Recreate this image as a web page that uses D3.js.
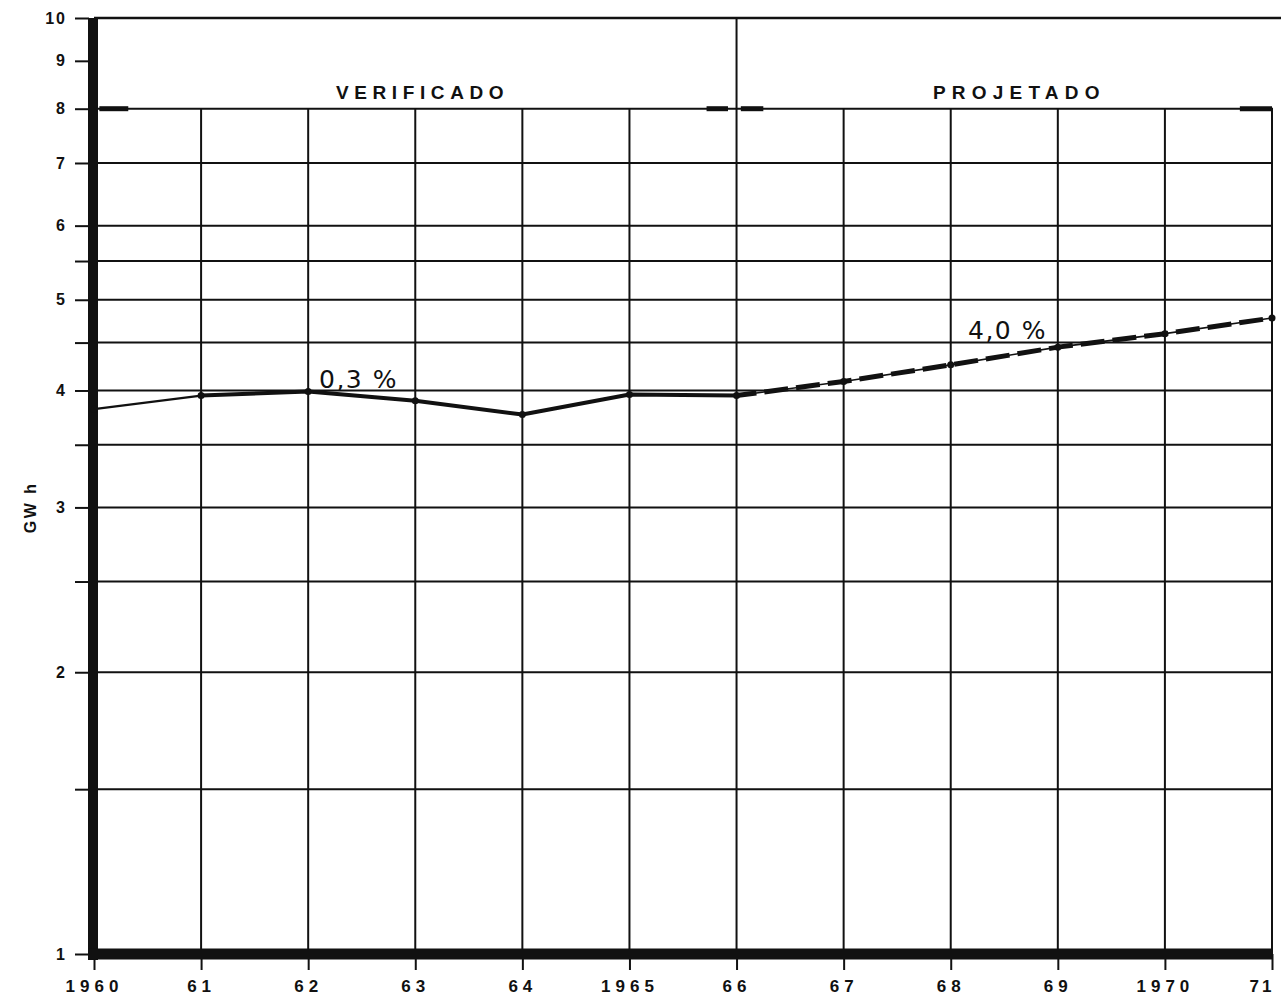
<!DOCTYPE html>
<html>
<head>
<meta charset="utf-8">
<script src="https://cdn.jsdelivr.net/npm/d3@7"></script>
<style>
  html, body { margin: 0; padding: 0; background: #fff; }
  svg { display: block; }
  .lbl { font-family: "Liberation Sans", "DejaVu Sans", sans-serif; font-weight: bold; fill: #111; }
  .rate { font-family: "DejaVu Sans", "Liberation Sans", sans-serif; fill: #111; }
</style>
</head>
<body>
<script>
// Energy consumption (GWh), observed 1960–1966 and projected 1966–1971
const years = [1960, 1961, 1962, 1963, 1964, 1965, 1966, 1967, 1968, 1969, 1970, 1971];
const xTickLabels = ["1960", "61", "62", "63", "64", "1965", "66", "67", "68", "69", "1970", "71"];

const verifiedYears = [1960, 1961, 1962, 1963, 1964, 1965, 1966];
const verifiedValues = [3.82, 3.95, 3.99, 3.90, 3.77, 3.96, 3.95];

const projectedYears = [1966, 1967, 1968, 1969, 1970, 1971];
const projectedValues = [3.95, 4.09, 4.26, 4.45, 4.60, 4.78];

const yTickValues = [1, 1.5, 2, 2.5, 3, 3.5, 4, 4.5, 5, 5.5, 6, 7, 8, 9, 10];
const yTickLabels = ["1", "", "2", "", "3", "", "4", "", "5", "", "6", "7", "8", "9", "10"];
const yGridValues = [1.5, 2, 2.5, 3, 3.5, 4, 4.5, 5, 5.5, 6, 7, 8];

const periodLabels = ["VERIFICADO", "PROJETADO"];
const rateLabels = ["0,3 %", "4,0 %"];
const yAxisTitle = "GW h";

const W = 1281, H = 1001;
const svg = d3.select("body").append("svg").attr("width", W).attr("height", H);

const x = d3.scaleLinear().domain([1960, 1971]).range([94, 1272]);
const y = d3.scaleLog().domain([1, 10]).range([954, 18]);
const ink = "#111";
const rightEdge = 1281;

// horizontal grid, closed on the right by the 1971 line
svg.append("g").selectAll("line").data(yGridValues).join("line")
  .attr("x1", x(1960)).attr("x2", x(1971) + 1)
  .attr("y1", d => y(d)).attr("y2", d => y(d))
  .attr("stroke", ink).attr("stroke-width", 2);

// vertical grid: below the header band, except the period divider which runs to the top
svg.append("g").selectAll("line").data(years.slice(1)).join("line")
  .attr("x1", d => x(d)).attr("x2", d => x(d))
  .attr("y1", d => d === 1966 ? y(10) : y(8)).attr("y2", y(1))
  .attr("stroke", ink).attr("stroke-width", 2);

// period span markers on the header line
const spans = [[1960.05, 1960.32], [1965.72, 1965.92], [1966.04, 1966.25], [1970.7, 1971]];
svg.append("g").selectAll("line").data(spans).join("line")
  .attr("x1", d => x(d[0])).attr("x2", d => x(d[1]))
  .attr("y1", y(8)).attr("y2", y(8))
  .attr("stroke", ink).attr("stroke-width", 5);

// left axis
const yAxis = d3.axisLeft(y).tickValues(yTickValues).tickSize(14).tickPadding(8)
  .tickFormat((d, i) => yTickLabels[i]);
const gy = svg.append("g").attr("transform", `translate(${x(1960) - 5},0)`).call(yAxis);
gy.select(".domain").remove();
gy.selectAll(".tick line").attr("stroke", ink).attr("stroke-width", 2);
gy.selectAll(".tick text").attr("class", "lbl")
  .style("font-size", "16px").style("letter-spacing", "2px");

// bottom axis
const xAxis = d3.axisBottom(x).tickValues(years).tickSize(16).tickPadding(10)
  .tickFormat((d, i) => xTickLabels[i]);
const gx = svg.append("g").attr("transform", `translate(0,${y(1)})`).call(xAxis);
gx.select(".domain").remove();
gx.selectAll(".tick line").attr("stroke", ink).attr("stroke-width", 2);
gx.selectAll(".tick text").attr("class", "lbl")
  .style("font-size", "17px").style("letter-spacing", "5px");
// last label sits just inside the right edge
gx.selectAll(".tick").filter(d => d === 1971).select("text")
  .attr("text-anchor", "end").attr("dx", 2).style("letter-spacing", "3px");

// heavy frame on the left and bottom
svg.append("line").attr("x1", x(1960) - 1).attr("x2", x(1960) - 1)
  .attr("y1", y(10)).attr("y2", y(1) + 6)
  .attr("stroke", ink).attr("stroke-width", 10);
svg.append("line").attr("x1", x(1960) - 6).attr("x2", x(1971))
  .attr("y1", y(1)).attr("y2", y(1))
  .attr("stroke", ink).attr("stroke-width", 11);
// top line
svg.append("line").attr("x1", x(1960)).attr("x2", rightEdge)
  .attr("y1", y(10)).attr("y2", y(10))
  .attr("stroke", ink).attr("stroke-width", 2.5);

// period labels
svg.append("text").attr("class", "lbl").attr("x", 336).attr("y", 99)
  .style("font-size", "19px").style("letter-spacing", "5.6px")
  .text(periodLabels[0]);
svg.append("text").attr("class", "lbl").attr("x", 933).attr("y", 99)
  .style("font-size", "19px").style("letter-spacing", "6.2px")
  .text(periodLabels[1]);

// y title
svg.append("text").attr("class", "lbl")
  .attr("transform", `translate(36,${y(3)}) rotate(-90)`)
  .attr("text-anchor", "middle").style("font-size", "16px").style("letter-spacing", "2.5px")
  .text(yAxisTitle);

const line = d3.line().x(d => x(d[0])).y(d => y(d[1]));
const verified = verifiedYears.map((yr, i) => [yr, verifiedValues[i]]);
const projected = projectedYears.map((yr, i) => [yr, projectedValues[i]]);

// observed series: lighter first segment, heavy afterwards
svg.append("path").datum(verified.slice(0, 2)).attr("d", line)
  .attr("fill", "none").attr("stroke", ink).attr("stroke-width", 2.2);
svg.append("path").datum(verified.slice(1)).attr("d", line)
  .attr("fill", "none").attr("stroke", ink).attr("stroke-width", 4)
  .attr("stroke-linejoin", "round");

// projected series: thin guide with heavy dashes over it
svg.append("path").datum(projected).attr("d", line)
  .attr("fill", "none").attr("stroke", ink).attr("stroke-width", 1.6);
svg.append("path").datum(projected).attr("d", line)
  .attr("fill", "none").attr("stroke", ink).attr("stroke-width", 5)
  .attr("stroke-dasharray", "24,8").attr("stroke-dashoffset", -60);

// point markers
svg.append("g").selectAll("circle").data(verified.concat(projected.slice(1))).join("circle")
  .attr("cx", d => x(d[0])).attr("cy", d => y(d[1])).attr("r", 3.5).attr("fill", ink);

// growth-rate labels
svg.append("text").attr("class", "rate").attr("x", 319).attr("y", 388)
  .style("font-size", "25px").style("letter-spacing", "1.5px").text(rateLabels[0]);
svg.append("text").attr("class", "rate").attr("x", 968).attr("y", 339)
  .style("font-size", "25px").style("letter-spacing", "1.5px").text(rateLabels[1]);
</script>
</body>
</html>
